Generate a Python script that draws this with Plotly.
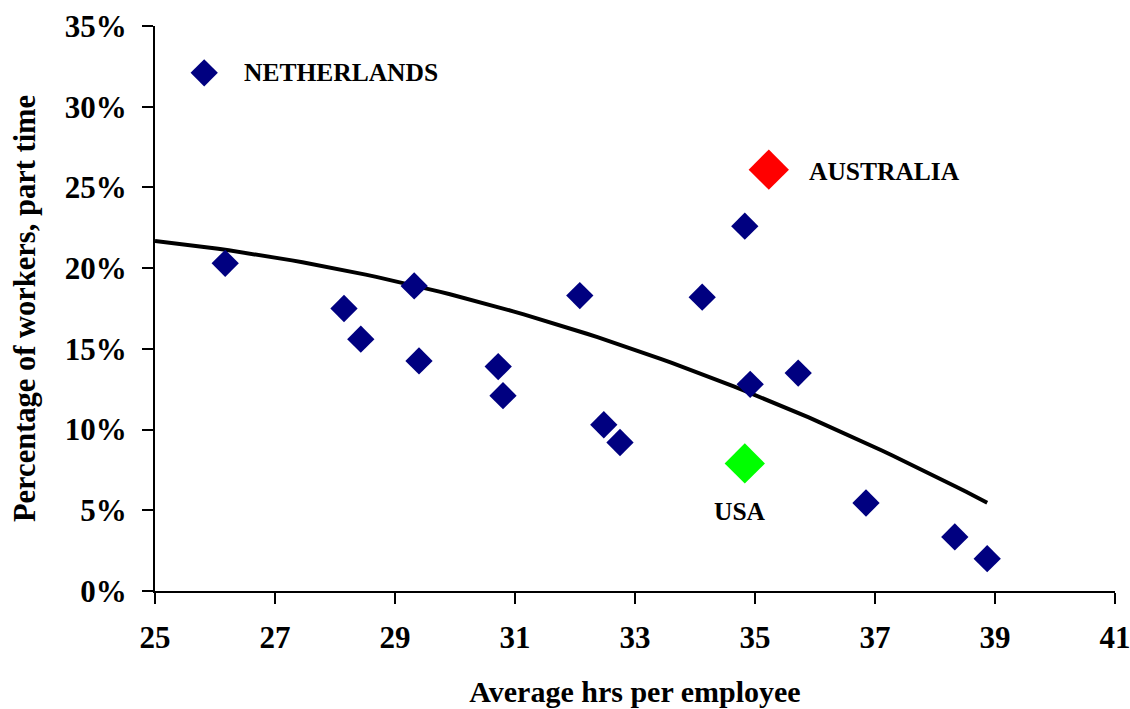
import numpy as np
import plotly.graph_objects as go

# Other countries (blue diamonds)
hours = [25.82, 26.17, 28.15, 28.43, 29.32, 29.40, 30.72, 30.80, 32.08, 32.48,
         32.75, 34.12, 34.83, 34.92, 35.72, 36.85, 38.33, 38.87]
part_time = [0.321, 0.203, 0.175, 0.156, 0.189, 0.1425, 0.139, 0.121, 0.183, 0.103,
             0.092, 0.182, 0.226, 0.128, 0.135, 0.0545, 0.0335, 0.020]

# Highlighted countries
aus_hours = [35.23]
aus_part = [0.261]
usa_hours = [34.83]
usa_part = [0.079]

# Polynomial trend line
trend_x = [25.0, 26.58, 28.25, 29.92, 31.58, 33.25, 34.92, 36.87, 38.87]
trend_y = [0.217, 0.208, 0.199, 0.183, 0.168, 0.146, 0.123, 0.089, 0.056]

x_ticks = [25, 27, 29, 31, 33, 35, 37, 39, 41]
y_ticks = [0, 0.05, 0.10, 0.15, 0.20, 0.25, 0.30, 0.35]

FONT = "Liberation Serif"

# smooth order-2 curve through the read trend values
coef = np.polyfit(trend_x, trend_y, 2)
fx = np.linspace(trend_x[0], trend_x[-1], 80)
fy = np.polyval(coef, fx)

fig = go.Figure()
fig.add_trace(go.Scatter(x=fx, y=fy, mode="lines",
                         line=dict(color="black", width=4), hoverinfo="skip"))
fig.add_trace(go.Scatter(x=hours, y=part_time, mode="markers",
                         marker=dict(symbol="diamond", size=21, color="#000080")))
fig.add_trace(go.Scatter(x=aus_hours, y=aus_part, mode="markers",
                         marker=dict(symbol="diamond", size=31, color="#FF0000")))
fig.add_trace(go.Scatter(x=usa_hours, y=usa_part, mode="markers",
                         marker=dict(symbol="diamond", size=31, color="#00FF00")))

ann_font = dict(family=FONT, size=25.5, color="black")
fig.add_annotation(x=hours[0], y=part_time[0], text="<b>NETHERLANDS</b>", showarrow=False,
                   xanchor="left", xshift=38, font=ann_font)
fig.add_annotation(x=aus_hours[0], y=aus_part[0], text="<b>AUSTRALIA</b>", showarrow=False,
                   xanchor="left", xshift=38, yshift=-2, font=ann_font)
fig.add_annotation(x=usa_hours[0], y=usa_part[0], text="<b>USA</b>", showarrow=False,
                   xanchor="center", xshift=-5, yshift=-48, font=ann_font)

fig.update_layout(
    width=1130, height=709,
    margin=dict(l=155, r=15, t=26, b=118),
    paper_bgcolor="white", plot_bgcolor="white",
    showlegend=False,
    font=dict(family=FONT, color="black"),
)
fig.update_xaxes(
    range=[25, 41], tickvals=x_ticks, ticktext=[str(v) for v in x_ticks],
    showgrid=False, zeroline=False, showline=True, linecolor="black", linewidth=2,
    ticks="outside", ticklen=11, tickwidth=2, tickcolor="black", automargin=False,
    ticklabeloverflow="allow",
    tickfont=dict(family=FONT, size=31, weight="bold"), ticklabelstandoff=7,
    title=dict(text="<b>Average hrs per employee</b>", font=dict(family=FONT, size=30), standoff=27),
)
fig.update_yaxes(
    range=[0, 0.35], tickvals=y_ticks, tickformat=".0%",
    showgrid=False, zeroline=False, showline=True, linecolor="black", linewidth=2,
    ticks="outside", ticklen=11, tickwidth=2, tickcolor="black", automargin=False,
    ticklabeloverflow="allow",
    tickfont=dict(family=FONT, size=31, weight="bold"), ticklabelstandoff=9,
    title=dict(text="<b>Percentage of workers, part time</b>", font=dict(family=FONT, size=30.5), standoff=20),
)

# remove the default page margin so the figure fills the window exactly
fig.write_html("out.html", config={"displayModeBar": False},
               post_script="document.body.style.margin='0';document.body.style.overflow='hidden';")
